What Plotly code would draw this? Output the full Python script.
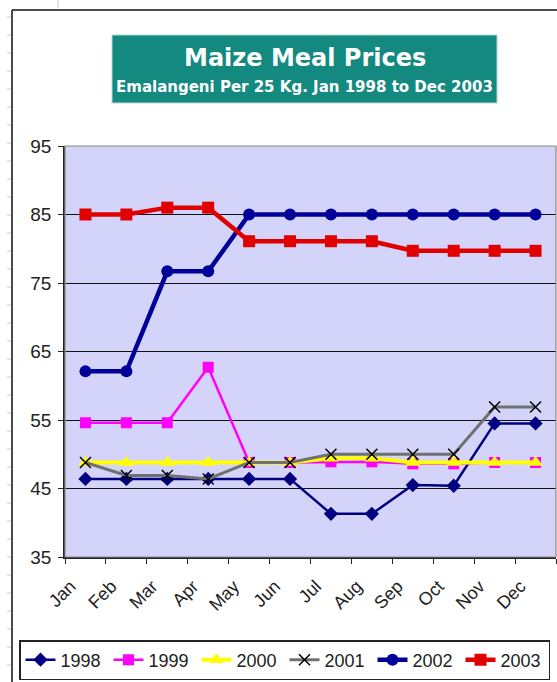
import plotly.graph_objects as go

months = ["Jan", "Feb", "Mar", "Apr", "May", "Jun", "Jul", "Aug", "Sep", "Oct", "Nov", "Dec"]
y_ticks = [35, 45, 55, 65, 75, 85, 95]

p1998 = [46.4, 46.4, 46.4, 46.4, 46.4, 46.4, 41.3, 41.3, 45.5, 45.4, 54.5, 54.5]
p1999 = [54.6, 54.6, 54.6, 62.7, 48.8, 48.8, 48.9, 48.9, 48.6, 48.6, 48.8, 48.8]
p2000 = [48.8, 48.8, 48.8, 48.8, 48.8, 48.8, 49.4, 49.4, 48.8, 48.8, 48.8, 48.8]
p2001 = [48.8, 46.9, 46.9, 46.4, 48.8, 48.8, 50.0, 50.0, 50.0, 50.0, 56.9, 56.9]
p2002 = [62.1, 62.1, 76.7, 76.7, 85.0, 85.0, 85.0, 85.0, 85.0, 85.0, 85.0, 85.0]
p2003 = [85.0, 85.0, 86.0, 86.0, 81.1, 81.1, 81.1, 81.1, 79.7, 79.7, 79.7, 79.7]

series = [
    ("1998", p1998, dict(color="#000080", width=2.5), dict(symbol="diamond", size=11, color="#000080")),
    ("1999", p1999, dict(color="#ff00ff", width=2.5), dict(symbol="square", size=11, color="#ff00ff")),
    ("2000", p2000, dict(color="#ffff00", width=4), dict(symbol="triangle-up", size=13, color="#ffff00")),
    ("2001", p2001, dict(color="#707070", width=3), dict(symbol="x-thin", size=11, color="#000000",
                                                        line=dict(color="#000000", width=1.5))),
    ("2002", p2002, dict(color="#000099", width=4.5), dict(symbol="circle", size=12, color="#000099")),
    ("2003", p2003, dict(color="#e00000", width=4.5), dict(symbol="square", size=12, color="#e00000")),
]

fig = go.Figure()
for name, vals, ln, mk in series:
    fig.add_trace(go.Scatter(x=months, y=vals, name=name, mode="lines+markers",
                             line=ln, marker=mk))

# plot-area geometry in px (used to place decorations in paper coords)
W, H, L, R, T, B = 557, 682, 65, 1, 146, 125
PW, PH = W - L - R, H - T - B


def px(x):
    return (x - L) / PW


def py(y):
    return (H - B - y) / PH


shapes = [
    dict(type="rect", xref="paper", yref="paper", x0=0, x1=1, y0=0, y1=1,
         line=dict(color="#888888", width=1.2), layer="above"),
    dict(type="rect", xref="paper", yref="paper", x0=px(112), x1=px(497), y0=py(103), y1=py(35),
         fillcolor="#13897f", line=dict(color="#b0d8d4", width=1)),
    # outer frame of the original sheet
    dict(type="line", xref="paper", yref="paper", x0=px(12), x1=px(12), y0=py(10), y1=py(682),
         line=dict(color="#111111", width=1.5)),
    dict(type="line", xref="paper", yref="paper", x0=px(12), x1=px(557), y0=py(10), y1=py(10),
         line=dict(color="#111111", width=1.5)),
    dict(type="line", xref="paper", yref="paper", x0=px(58), x1=px(58), y0=py(0), y1=py(8),
         line=dict(color="#cccccc", width=1)),
]
for k in range(38):
    yy = 17 + 18 * k
    shapes.append(dict(type="line", xref="paper", yref="paper", x0=px(7), x1=px(11),
                       y0=py(yy), y1=py(yy), line=dict(color="#c8c8c8", width=1)))

fig.update_layout(
    width=W, height=H,
    margin=dict(l=L, r=R, t=T, b=B, autoexpand=False),
    paper_bgcolor="white",
    plot_bgcolor="#d4d4fa",
    font=dict(family="Liberation Sans, Arial, sans-serif", color="#222222"),
    showlegend=True,
    legend=dict(orientation="h", x=px(19), xanchor="left", y=py(640), yanchor="top",
                bordercolor="#222222", borderwidth=1.5, bgcolor="white",
                font=dict(size=18, family="Liberation Sans, Arial, sans-serif"),
                entrywidth=43, itemwidth=30, tracegroupgap=0),
    xaxis=dict(type="category", tickson="boundaries", ticks="outside", ticklen=5,
               tickcolor="#222222", showline=True, linecolor="#222222", linewidth=1.5,
               tickangle=-45, tickfont=dict(size=18), showgrid=False, automargin=False,
               ticklabelstandoff=10, ticklabelshift=-15,
               range=[-0.5, 11.5]),
    yaxis=dict(range=[35, 95], tickvals=y_ticks, ticks="outside", ticklen=5,
               tickcolor="#222222", showline=True, linecolor="#222222", linewidth=1.5,
               showgrid=True, gridcolor="#111111", gridwidth=1.2, automargin=False,
               tickfont=dict(size=19), zeroline=False, ticklabelstandoff=3),
    shapes=shapes,
    annotations=[
        dict(text="<b>Maize Meal Prices</b>", xref="paper", yref="paper", x=px(304.5), y=py(58),
             showarrow=False, xanchor="center", yanchor="middle",
             font=dict(family="DejaVu Sans", size=24, color="white")),
        dict(text="<b>Emalangeni Per 25 Kg. Jan 1998 to Dec 2003</b>", xref="paper", yref="paper",
             x=px(304.5), y=py(87), showarrow=False, xanchor="center", yanchor="middle",
             font=dict(family="DejaVu Sans", size=15, color="white")),
    ],
)

fig.write_html("out.html", config={"displayModeBar": False},
               post_script="document.body.style.margin='0';document.body.style.padding='0';")
